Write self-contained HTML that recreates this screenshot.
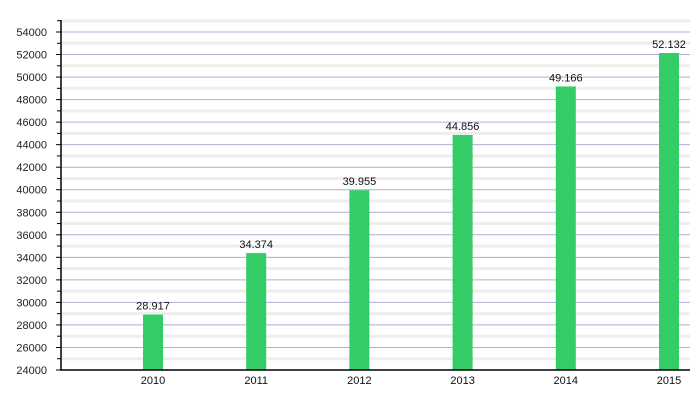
<!DOCTYPE html>
<html><head><meta charset="utf-8"><style>body{margin:0;background:#fff}svg{display:block;font-family:"Liberation Sans",sans-serif}</style></head>
<body>
<svg id="c" width="700" height="400"></svg>
<script>
const categories=["2010","2011","2012","2013","2014","2015"];
const values=[28917,34374,39955,44856,49166,52132];
const valueLabels=["28.917","34.374","39.955","44.856","49.166","52.132"];
const yTicks=[24000,26000,28000,30000,32000,34000,36000,38000,40000,42000,44000,46000,48000,50000,52000,54000];
const NS="http://www.w3.org/2000/svg",svg=document.getElementById('c');
const y=v=>370-(v-24000)*(338/30000);
const x=i=>153+i*103.2;
function mk(t,a,p){const e=document.createElementNS(NS,t);for(const k in a)e.setAttribute(k,a[k]);(p||svg).appendChild(e);return e;}
for(let v=25000;v<=55000;v+=2000){if(y(v)<20)continue;
const g=mk('line',{x1:62,x2:690,y1:y(v),y2:y(v),stroke:'#eeeeee','stroke-width':3});


const t=mk('line',{x1:57,x2:61,y1:y(v),y2:y(v),stroke:'#000'});

}
yTicks.forEach(v=>{
const g=mk('line',{x1:61,x2:690,y1:y(v),y2:y(v),stroke:'#b0acd8'});


const t=mk('line',{x1:56,x2:61,y1:y(v),y2:y(v),stroke:'#000'});


const l=mk('text',{x:47,y:y(v)+4,'text-anchor':'end','font-size':11,fill:'#222'});l.textContent=v;

});
categories.forEach((c,i)=>{
const b=mk('rect',{x:x(i)-10,y:y(values[i]),width:20,height:370-y(values[i]),fill:'#33cc66'});


const v=mk('text',{x:x(i),y:y(values[i])-5,'text-anchor':'middle','font-size':11,fill:'#111'});v.textContent=valueLabels[i];


const l=mk('text',{x:x(i),y:384,'text-anchor':'middle','font-size':11,fill:'#111'});l.textContent=c;

});
const ya=mk('line',{x1:61,x2:61,y1:20,y2:370,stroke:'#000','stroke-width':1.5});


const xa=mk('line',{x1:60,x2:690,y1:370,y2:370,stroke:'#000','stroke-width':1.5});


</script>
</body></html>
